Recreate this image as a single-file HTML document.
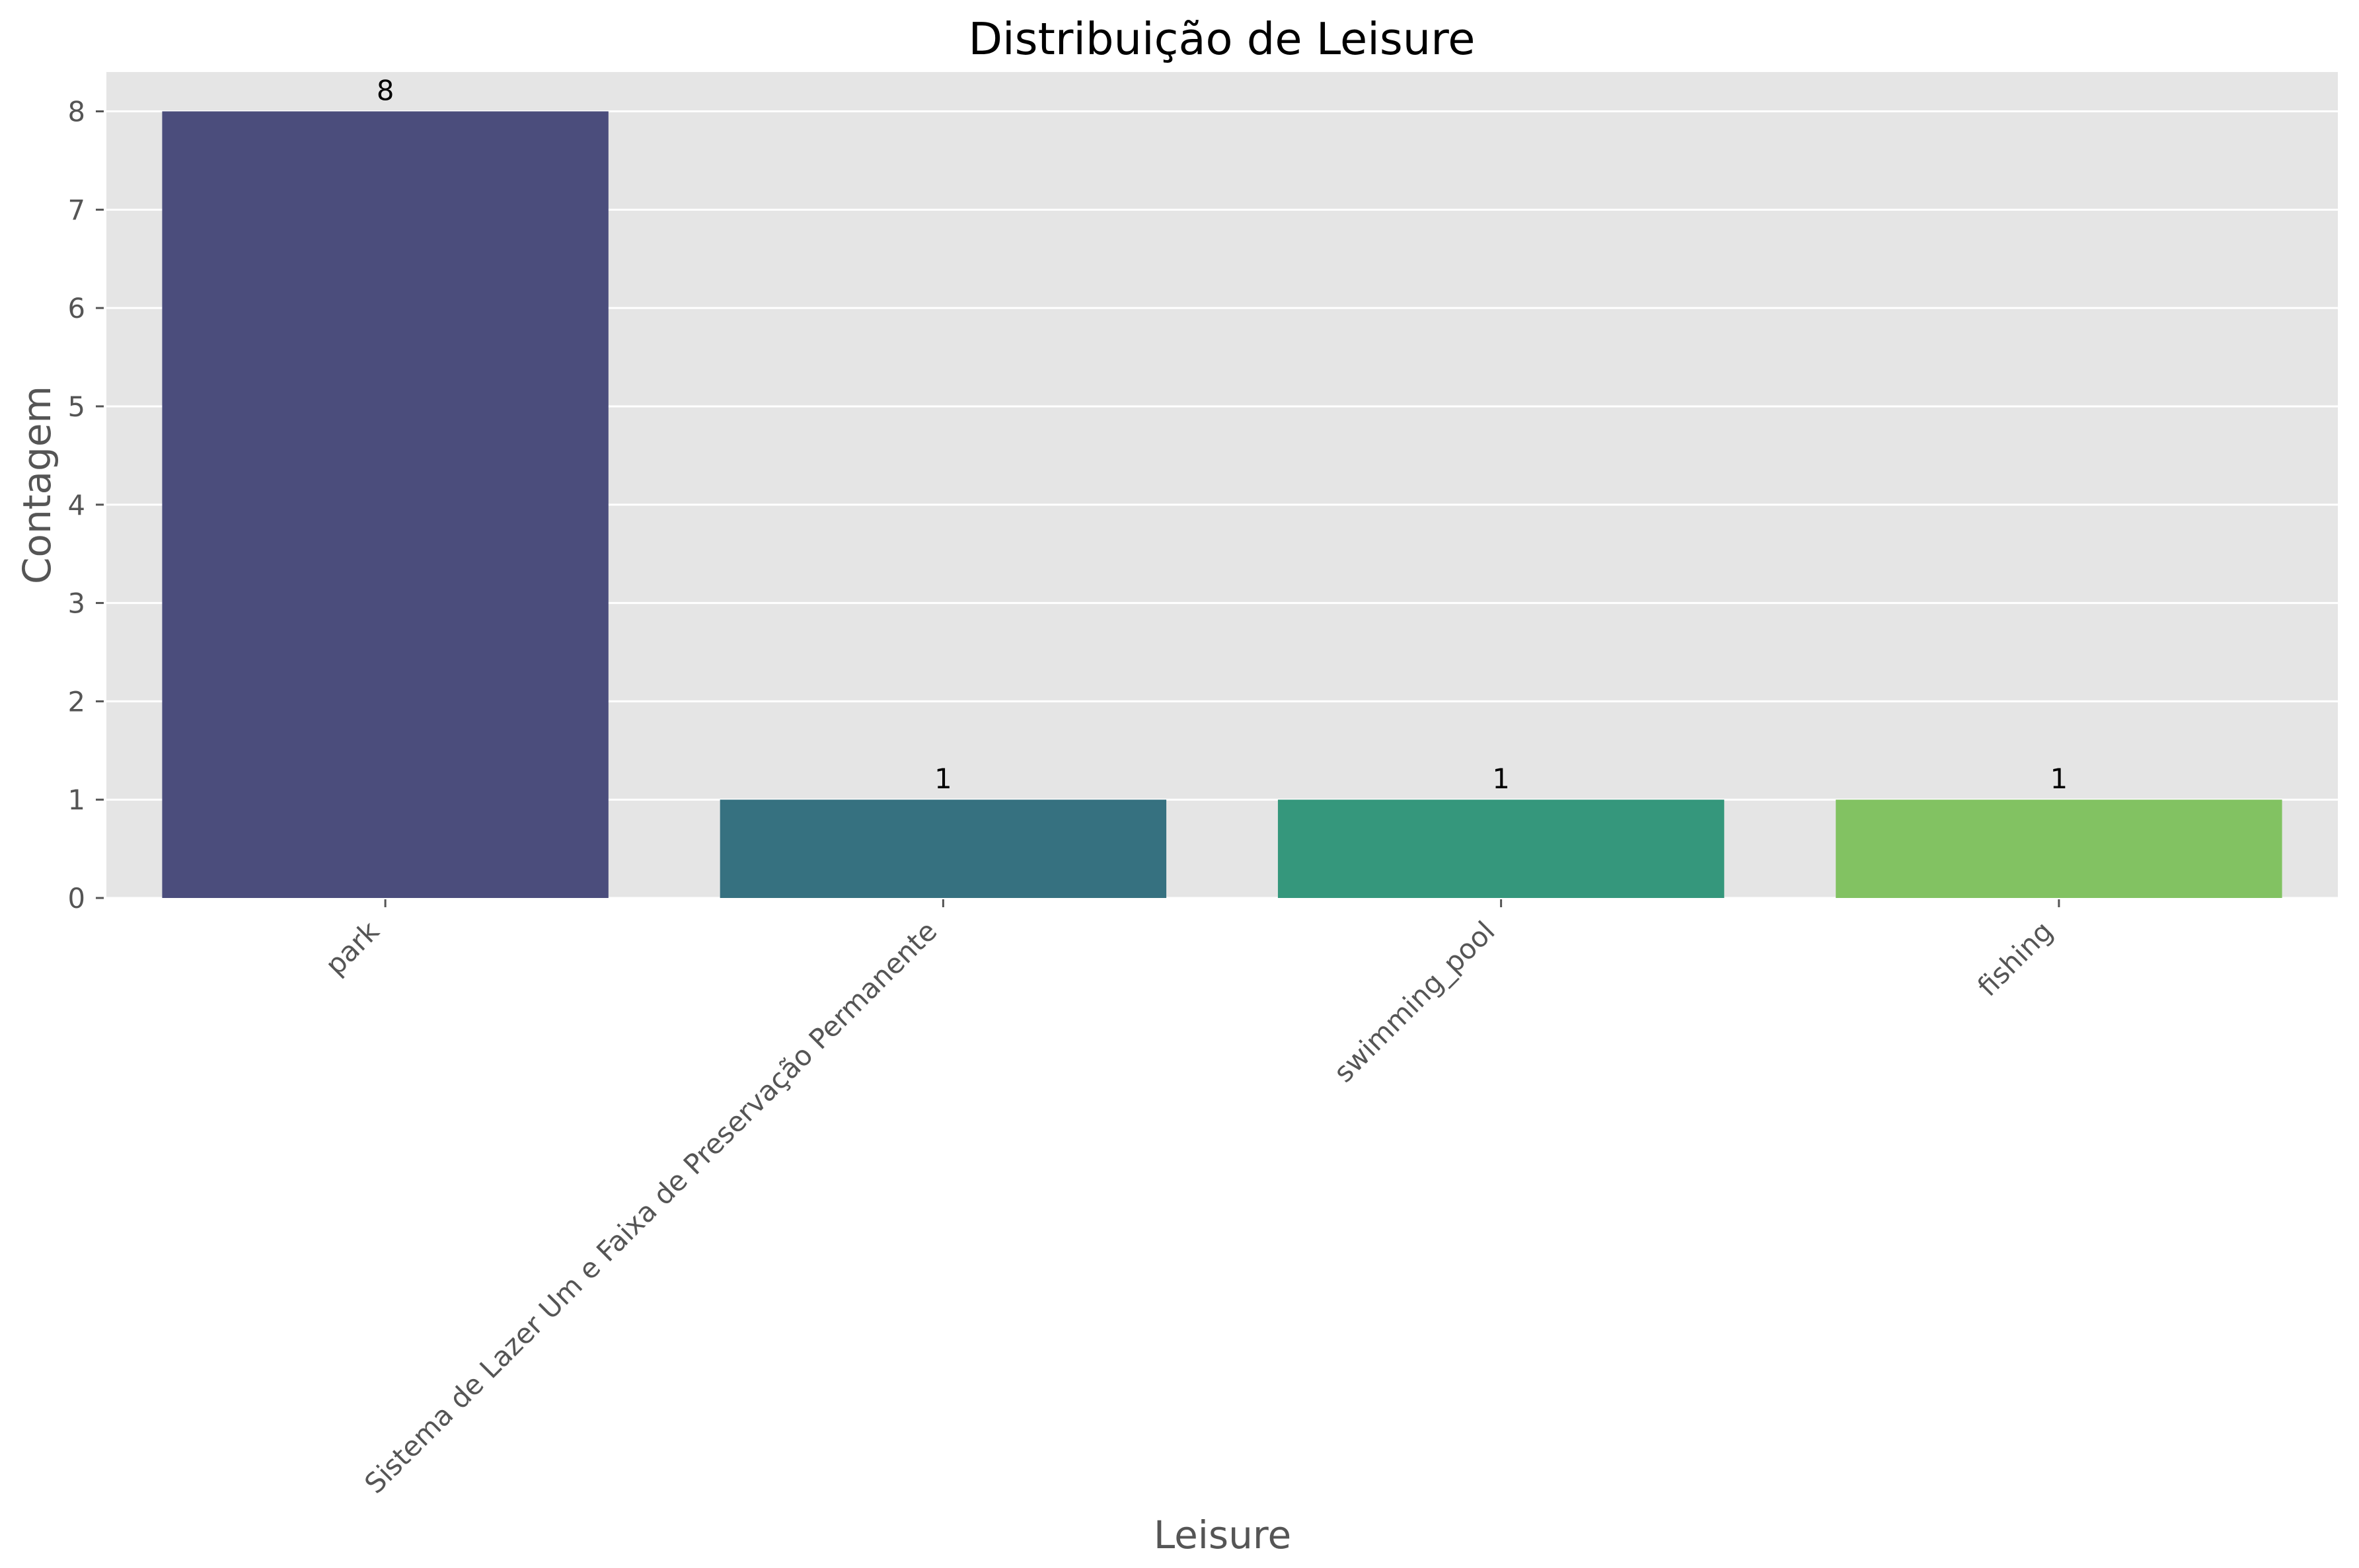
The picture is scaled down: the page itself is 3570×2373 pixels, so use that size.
<!DOCTYPE html>
<html><head><meta charset="utf-8"><style>
html,body{margin:0;padding:0;background:#fff;}
svg{display:block;font-family:"DejaVu Sans","Liberation Sans",sans-serif;}
</style></head><body>
<svg id="chart" width="3570" height="2373" viewBox="0 0 3570 2373" xmlns="http://www.w3.org/2000/svg">
<rect x="0" y="0" width="3570" height="2373" fill="#ffffff"/>
<rect x="161" y="109" width="3377" height="1250" fill="#e5e5e5"/>
<g id="grid"></g>
<g id="bars"></g>
<g id="yticks"></g>
<g id="xticks"></g>
<text x="1849" y="82" font-size="67" text-anchor="middle" fill="#000">Distribuição de Leisure</text>
<text x="1850" y="2343" font-size="58" text-anchor="middle" fill="#555">Leisure</text>
<text transform="translate(76,734) rotate(-90)" font-size="58" text-anchor="middle" fill="#555">Contagem</text>
</svg>
<script>
const categories = ["park", "Sistema de Lazer Um e Faixa de Preservação Permanente", "swimming_pool", "fishing"];
const counts = [8, 1, 1, 1];
const barColors = ["#4b4d7c", "#367180", "#35977c", "#82c262"];
const yTicks = [0, 1, 2, 3, 4, 5, 6, 7, 8];

const NS = "http://www.w3.org/2000/svg";
const plotL = 161, plotR = 3538, plotT = 109, plotB = 1359;
const yMax = 8.4;
function yScale(v){ return plotB - (v / yMax) * (plotB - plotT); }
const band = (plotR - plotL) / categories.length;
function xCenter(i){ return plotL + band * (i + 0.5); }
function mk(tag, attrs){ const e = document.createElementNS(NS, tag); for (const k in attrs) e.setAttribute(k, attrs[k]); return e; }

const grid = document.getElementById('grid');
const yt = document.getElementById('yticks');
yTicks.forEach(t => {
  const y = yScale(t);
  const gl = mk('line', {x1: plotL, x2: plotR, y1: y, y2: y, stroke: '#ffffff', 'stroke-width': 3});
  
  
  grid.appendChild(gl);
  const tm = mk('line', {x1: 145, x2: 157, y1: y, y2: y, stroke: '#555', 'stroke-width': 3});
  
  
  yt.appendChild(tm);
  const tl = mk('text', {x: 129, y: y + 15, 'font-size': 41.7, 'text-anchor': 'end', fill: '#555'});
  tl.textContent = t;
  
  
  yt.appendChild(tl);
});

const bars = document.getElementById('bars');
const xt = document.getElementById('xticks');
categories.forEach((c, i) => {
  const cx = xCenter(i), w = band * 0.8;
  const y = yScale(counts[i]);
  const r = mk('rect', {x: cx - w / 2, y: y, width: w, height: plotB - y, fill: barColors[i]});
  
  
  bars.appendChild(r);
  const v = mk('text', {x: cx, y: y - 17, 'font-size': 41.7, 'text-anchor': 'middle', fill: '#000'});
  v.textContent = counts[i];
  
  
  bars.appendChild(v);
  const tm = mk('line', {x1: cx, x2: cx, y1: plotB + 2, y2: plotB + 14, stroke: '#555', 'stroke-width': 3});
  
  
  xt.appendChild(tm);
  const ax = cx - 7, ay = 1412;
  const tl = mk('text', {x: ax, y: ay, 'font-size': 41.7, 'text-anchor': 'end', fill: '#555', transform: 'rotate(-45 ' + ax + ' ' + ay + ')'});
  tl.textContent = c;
  
  
  xt.appendChild(tl);
});
</script>
</body></html>
